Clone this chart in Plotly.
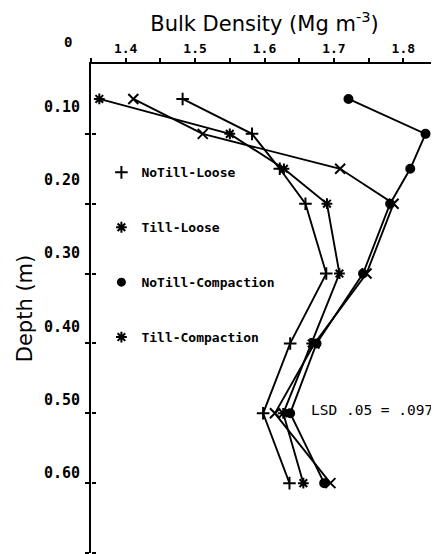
import plotly.graph_objects as go

# ---- data ----
depth = [0.05, 0.10, 0.15, 0.20, 0.30, 0.40, 0.50, 0.60]
notill_loose = [1.482, 1.582, 1.622, 1.659, 1.689, 1.637, 1.598, 1.636]
till_loose = [1.362, 1.550, 1.628, 1.690, 1.708, 1.668, 1.627, 1.656]
notill_comp = [1.721, 1.832, 1.810, 1.781, 1.742, 1.675, 1.637, 1.686]
till_comp = [1.411, 1.511, 1.709, 1.786, 1.747, 1.672, 1.615, 1.695]
series_names = ["NoTill-Loose", "Till-Loose", "NoTill-Compaction", "Till-Compaction"]
x_label_vals = [1.4, 1.5, 1.6, 1.7, 1.8]
x_label_text = ["1.4", "1.5", "1.6", "1.7", "1.8"]
x_minor_vals = [1.35, 1.45, 1.55, 1.65, 1.75, 1.85]
x_all_ticks = [1.35, 1.40, 1.45, 1.50, 1.55, 1.60, 1.65, 1.70, 1.75, 1.80, 1.85]
y_tick_vals = [0.1, 0.2, 0.3, 0.4, 0.5, 0.6, 0.7]
y_label_text = ["0.10", "0.20", "0.30", "0.40", "0.50", "0.60"]
lsd_text = "LSD .05 = .097"

# ---- styles ----
MONO = "DejaVu Sans Mono"
SANS = "DejaVu Sans"
plot_symbols = ["cross-thin-open", "asterisk-open", "circle", "x-thin-open"]
plot_sizes = [9, 9, 8, 10]
legend_symbols = ["cross-thin-open", "asterisk-open", "circle", "asterisk-open"]
legend_sizes = [9, 9, 7, 9]
all_series = [notill_loose, till_loose, notill_comp, till_comp]

fig = go.Figure()
for vals, sym, sz in zip(all_series, plot_symbols, plot_sizes):
    fig.add_trace(go.Scatter(
        x=vals, y=depth, mode="lines+markers", showlegend=False,
        line=dict(color="black", width=1.9),
        marker=dict(symbol=sym, size=sz, color="black",
                    line=dict(color="black", width=2)),
    ))
for i, (name, sym, sz) in enumerate(zip(series_names, legend_symbols, legend_sizes)):
    fig.add_trace(go.Scatter(
        x=[None], y=[None], mode="markers", name=name, legendgroup=f"g{i}",
        marker=dict(symbol=sym, size=sz, color="black",
                    line=dict(color="black", width=2)),
    ))

# label-only y axis positions (the original's labels sit offset from ticks)
ylabel_pos = [0.0615, 0.166, 0.270, 0.376, 0.481, 0.585]

# the page body has an 8px margin, so the figure is sized to fill the rest
fig.update_layout(
    width=431, height=546,
    margin=dict(l=83, r=1, t=56, b=1, autoexpand=False),
    paper_bgcolor="white", plot_bgcolor="white",
    showlegend=True,
    legend=dict(x=0.03, y=0.809, xanchor="left", yanchor="top",
                font=dict(family=MONO, size=13, color="black", weight="bold"),
                tracegroupgap=35, bgcolor="rgba(0,0,0,0)", itemwidth=30),
    xaxis=dict(
        side="top", range=[1.35, 1.85], showgrid=False, zeroline=False,
        automargin=False,
        showline=True, linecolor="black", linewidth=2,
        tickmode="array", tickvals=x_label_vals, ticktext=x_label_text,
        ticks="outside", ticklen=4, tickwidth=1.5, tickcolor="black",
        minor=dict(tickvals=x_minor_vals, ticks="outside", ticklen=4,
                   tickwidth=1.5, tickcolor="black", showgrid=False),
        tickfont=dict(family=MONO, size=13, color="black", weight="bold"),
        title=dict(text="Bulk Density (Mg m<sup>-3</sup>)",
                   font=dict(family=SANS, size=21, color="black"), standoff=4),
    ),
    xaxis2=dict(
        overlaying="x", side="bottom", range=[1.35, 1.85], anchor="free",
        automargin=False,
        position=1, showgrid=False, zeroline=False, showline=False,
        tickmode="array", tickvals=x_all_ticks, showticklabels=False,
        ticks="inside", ticklen=4, tickwidth=1.5, tickcolor="black",
    ),
    yaxis=dict(
        range=[0.7, 0], showgrid=False, zeroline=False, automargin=False,
        showline=True, linecolor="black", linewidth=2,
        tickmode="array", tickvals=y_tick_vals, showticklabels=False,
        ticks="outside", ticklen=4, tickwidth=1.5, tickcolor="black",
    ),
    yaxis2=dict(
        overlaying="y", side="left", range=[0.7, 0], anchor="x", automargin=False,
        showgrid=False, zeroline=False, showline=False,
        tickmode="array", tickvals=ylabel_pos, ticktext=y_label_text,
        ticks="outside", ticklen=7, tickcolor="rgba(0,0,0,0)",
        tickfont=dict(family=MONO, size=15, color="black", weight="bold"),
        title=dict(text="Depth (m)", font=dict(family=SANS, size=21, color="black"),
                   standoff=5),
    ),
    yaxis3=dict(
        overlaying="y", side="right", range=[0.7, 0], anchor="free", position=0,
        automargin=False,
        showgrid=False, zeroline=False, showline=False,
        tickmode="array", tickvals=y_tick_vals, showticklabels=False,
        ticks="outside", ticklen=4, tickwidth=1.5, tickcolor="black",
    ),
    annotations=[
        dict(text="0", xref="paper", yref="paper", x=-0.066, y=1.045,
             showarrow=False, xanchor="center", yanchor="middle",
             font=dict(family=MONO, size=14, color="black", weight="bold")),
        dict(text=lsd_text, xref="x", yref="y", x=1.664, y=0.495,
             showarrow=False, xanchor="left", yanchor="middle",
             font=dict(family=MONO, size=14.5, color="black")),
    ],
)
# traces to activate overlay axes for ticks
fig.add_trace(go.Scatter(x=[None], y=[None], xaxis="x2", yaxis="y", showlegend=False))
fig.add_trace(go.Scatter(x=[None], y=[None], xaxis="x", yaxis="y2", showlegend=False))
fig.add_trace(go.Scatter(x=[None], y=[None], xaxis="x", yaxis="y3", showlegend=False))

fig.write_html("out.html")
